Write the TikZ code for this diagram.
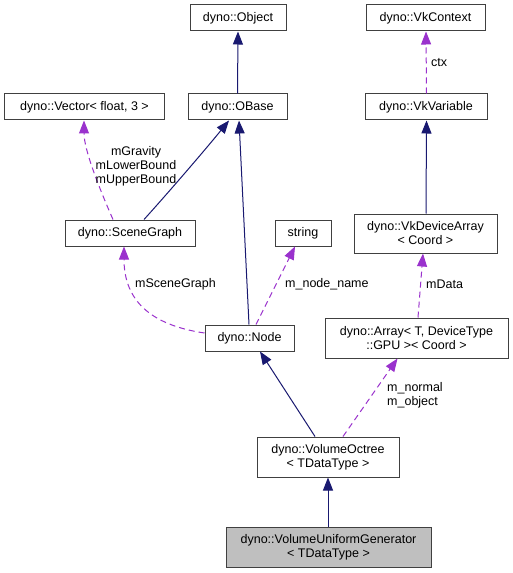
\documentclass[tikz,border=0pt]{standalone}
\usepackage{fontspec}
\setmainfont{Liberation Sans}
\usetikzlibrary{arrows.meta}
\definecolor{navy}{HTML}{191970}
\definecolor{purp}{HTML}{9A32CD}
\definecolor{bord}{HTML}{404040}
\definecolor{shade}{HTML}{BFBFBF}
\begin{document}
\begin{tikzpicture}[x=1bp,y=-1bp,
  box/.style={draw=bord, line width=1bp, fill=white, inner sep=0pt, align=center,
    font=\fontsize{12.5bp}{14bp}\selectfont},
  inh/.style={draw=navy, line width=1bp, -{Triangle[length=13bp,width=10bp,fill=navy]}},
  use/.style={draw=purp, line width=1bp, dash pattern=on 6bp off 4bp,
    -{Triangle[length=13bp,width=10bp,fill=purp]}},
  lbl/.style={font=\fontsize{12.5bp}{14bp}\selectfont, inner sep=0pt}]
\useasboundingbox (0,0) rectangle (513,573);
\fill[white] (0,0) rectangle (513,573);
% nodes
\node[box, minimum width=96bp, minimum height=26bp] (obj) at (238,18) {dyno::Object};
\node[box, minimum width=119bp, minimum height=26bp] (vkctx) at (425.5,18) {dyno::VkContext};
\node[box, minimum width=159bp, minimum height=26bp] (vec) at (84.5,107) {dyno::Vector< float, 3 >};
\node[box, minimum width=99bp, minimum height=26bp] (obase) at (237.5,107) {dyno::OBase};
\node[box, minimum width=122bp, minimum height=26bp] (vkvar) at (426,107) {dyno::VkVariable};
\node[box, minimum width=130bp, minimum height=26bp] (sg) at (130,233) {dyno::SceneGraph};
\node[box, minimum width=56bp, minimum height=26bp] (str) at (303,233) {string};
\node[box, minimum width=143bp, minimum height=39bp] (vkda) at (425.5,233.5) {dyno::VkDeviceArray\\< Coord >};
\node[box, minimum width=89bp, minimum height=26bp] (node) at (249.5,338) {dyno::Node};
\node[box, minimum width=183bp, minimum height=40bp] (arr) at (416.5,338) {dyno::Array< T, DeviceType\\::GPU >< Coord >};
\node[box, minimum width=142bp, minimum height=40bp] (vo) at (328,457) {dyno::VolumeOctree\\< TDataType >};
\node[box, fill=shade, minimum width=205bp, minimum height=40bp] (vug) at (328.5,547) {dyno::VolumeUniformGenerator\\< TDataType >};
% inheritance
\draw[inh] (obase.north) -- (obj.south);
\draw[inh] ([xshift=0.5bp]vkda.north) -- ([xshift=0.5bp]vkvar.south);
\draw[inh] ([xshift=14bp]sg.north) .. controls (168,193) and (205,150) .. ([xshift=-8.5bp]obase.south);
\draw[inh] ([xshift=-0.5bp]node.north) -- ([xshift=1.5bp]obase.south);
\draw[inh] ([xshift=-13bp]vo.north) -- ([xshift=10.5bp]node.south);
\draw[inh] ([xshift=-0.5bp]vug.north) -- (vo.south);
% usage
\draw[use] ([xshift=0.5bp]vkvar.north) -- ([xshift=0.5bp]vkctx.south);
\draw[use] ([xshift=-17bp]sg.north) .. controls (100,190) and (84,150) .. ([xshift=-0.5bp]vec.south);
\draw[use] ([yshift=5bp]node.west) .. controls (150,325) and (124,300) .. ([xshift=-6bp]sg.south);
\draw[use] ([xshift=6.5bp]node.north) -- ([xshift=-8bp]str.south);
\draw[use] ([xshift=1.5bp]arr.north) -- ([xshift=-2.5bp]vkda.south);
\draw[use] ([xshift=15bp]vo.north) -- ([xshift=-19bp]arr.south);
% labels
\node[lbl, anchor=west] (lctx) at (431,63) {ctx};
\node[lbl, align=center] (lvec) at (136,166) {mGravity\\mLowerBound\\mUpperBound};
\node[lbl, anchor=west] (lsg) at (135,284) {mSceneGraph};
\node[lbl, anchor=west] (lstr) at (285,284) {m\_node\_name};
\node[lbl, anchor=west] (lda) at (426,284) {mData};
\node[lbl, anchor=west, align=left] (larr) at (387,395) {m\_normal\\m\_object};
\end{tikzpicture}
\end{document}
